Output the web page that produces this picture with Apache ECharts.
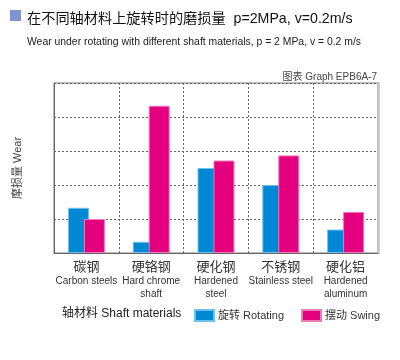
<!DOCTYPE html>
<html><head><meta charset="utf-8">
<script src="https://cdn.jsdelivr.net/npm/echarts@6/dist/echarts.min.js"></script>
<style>html,body{margin:0;padding:0;background:#fff}#c{width:400px;height:360px}</style>
</head><body><div id="c"></div>
<script>
var catsZh = ['碳钢', '硬铬钢', '硬化钢', '不锈钢', '硬化铝'];
var catsEn = ['Carbon steels', 'Hard chrome\nshaft', 'Hardened\nsteel', 'Stainless steel', 'Hardened\naluminum'];
var rotating = [1.33, 0.33, 2.5, 2.0, 0.69];
var swing = [1.0, 4.33, 2.72, 2.87, 1.21];
var seriesNames = ['旋转 Rotating', '摆动 Swing'];
var titleText = '在不同轴材料上旋转时的磨损量  p=2MPa, v=0.2m/s';
var subText = 'Wear under rotating with different shaft materials, p = 2 MPa, v = 0.2 m/s';
var graphId = '图表 Graph EPB6A-7';
var yName = '摩损量 Wear';
var xName = '轴材料 Shaft materials';

var FONT = 'Liberation Sans, Arial, Noto Sans CJK SC, sans-serif';
var chart = echarts.init(document.getElementById('c'));
chart.setOption({
  animation: false,
  textStyle: {fontFamily: FONT},
  title: [
    {text: titleText, left: 22, top: 7, textStyle: {fontSize: 14.2, fontWeight: 'normal', color: '#111', fontFamily: FONT}},
    {text: subText, left: 22, top: 32, textStyle: {fontSize: 10.4, fontWeight: 'normal', color: '#222', fontFamily: FONT}},
    {text: graphId, right: 18, top: 67, textStyle: {fontSize: 10, fontWeight: 'normal', color: '#444', fontFamily: FONT}},
    {text: xName, left: 57, top: 303, textStyle: {fontSize: 12, fontWeight: 'normal', color: '#222', fontFamily: FONT}}
  ],
  graphic: [
    {type: 'rect', shape: {x: 10, y: 10, width: 11, height: 11}, style: {fill: '#7F93CF'}},
    {type: 'text', x: 18, y: 168, rotation: Math.PI / 2, style: {text: yName, fontSize: 11, fill: '#444', fontFamily: FONT, textAlign: 'center', textVerticalAlign: 'middle'}}
  ],
  legend: {
    left: 189, top: 304, itemWidth: 19, itemHeight: 11, itemGap: 17,
    icon: 'rect', data: seriesNames,
    textStyle: {fontSize: 11, color: '#333', padding: [0, 0, 0, -1], fontFamily: FONT}
  },
  grid: {left: 54, right: 22, top: 83, bottom: 107, show: true, borderColor: '#777', borderWidth: 1},
  xAxis: {
    type: 'category', data: catsZh.map(function (z, i) { return z + '\n' + catsEn[i]; }),
    axisLine: {lineStyle: {color: '#666'}}, axisTick: {show: false},
    splitLine: {show: true, lineStyle: {color: '#666', type: [2, 2]}},
    axisLabel: {
      margin: 7, interval: 0,
      formatter: function (v) { var p = v.split('\n'); return '{zh|' + p[0] + '}\n{en|' + p.slice(1).join('}\n{en|') + '}'; },
      rich: {
        zh: {fontSize: 13, color: '#333', lineHeight: 15, fontFamily: FONT},
        en: {fontSize: 10, color: '#333', lineHeight: 12.5, fontFamily: FONT}
      }
    }
  },
  yAxis: [
    {type: 'value', min: 0, max: 5, interval: 1, axisLabel: {show: false},
     axisLine: {show: true, lineStyle: {color: '#666'}}, axisTick: {show: false},
     splitLine: {lineStyle: {color: '#666', type: [2, 2]}}},
    {type: 'value', min: 0, max: 5, interval: 1, position: 'right', axisLabel: {show: false},
     axisLine: {show: true, lineStyle: {color: '#c4c4c4', width: 2.5}}, axisTick: {show: false}, splitLine: {show: false}}
  ],
  series: [
    {name: seriesNames[0], type: 'bar', data: rotating, barWidth: 21, barGap: '-24%',
     itemStyle: {color: '#0088D4', borderColor: '#6FC0EA', borderWidth: 1}},
    {name: seriesNames[1], type: 'bar', data: swing, barWidth: 21,
     itemStyle: {color: '#E4007F', borderColor: '#F07AB8', borderWidth: 1}}
  ]
});
</script></body></html>
